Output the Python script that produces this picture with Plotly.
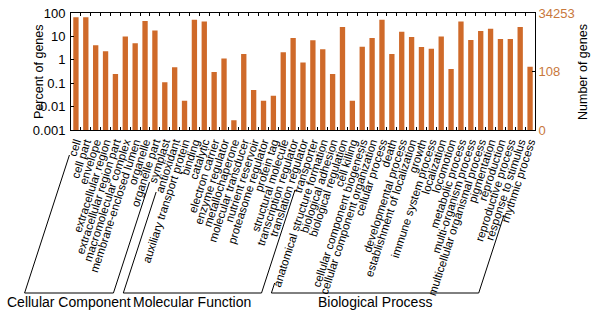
import plotly.graph_objects as go

categories = [
    "cell", "cell part", "envelope", "extracellular region", "extracellular region part",
    "macromolecular complex", "membrane-enclosed lumen", "organelle", "organelle part", "symplast",
    "antioxidant", "auxiliary transport protein", "binding", "catalytic", "electron carrier",
    "enzyme regulator", "metallochaperone", "molecular transducer", "nutrient reservoir",
    "proteasome regulator", "protein tag", "structural molecule", "transcription regulator",
    "translation regulator", "transporter",
    "anatomical structure formation", "biological adhesion", "biological regulation", "cell killing",
    "cellular component biogenesis", "cellular component organization", "cellular process", "death",
    "developmental process", "establishment of localization", "growth", "immune system process",
    "localization", "locomotion", "metabolic process", "multi-organism process",
    "multicellular organismal process", "pigmentation", "reproduction", "reproductive process",
    "response to stimulus", "rhythmic process",
]
percent_values = [
    66, 66, 4.2, 2.3, 0.25, 10, 5.1, 46, 18, 0.11,
    0.48, 0.018, 51, 43, 0.30, 1.15, 0.0026, 1.75, 0.051, 0.018, 0.029, 2.1, 8.6, 0.76, 6.8,
    2.85, 0.25, 25, 0.018, 3.6, 8.6, 52, 1.75, 15.8, 9.4, 3.5, 3.0, 10, 0.4, 43, 7, 17, 21,
    7.8, 7.8, 25, 0.51,
]
group_names = ["Cellular Component", "Molecular Function", "Biological Process"]
group_sizes = [10, 15, 22]
total_genes = 34253
left_tickvals = [0.001, 0.01, 0.1, 1, 10, 100]
left_ticktext = ["0.001", "0.01", "0.1", "1", "10", "100"]
right_ticktext = ["0", "108", "34253"]
right_tickcounts = [total_genes * 0.001 / 100, 108, total_genes]

gene_counts = [p * total_genes / 100 for p in percent_values]

BAR = "#CF6A2A"
ORANGE = "#C8783C"
FONT = "Liberation Sans, Arial, Helvetica, sans-serif"

W, H = 600, 312
L, R, T, B = 71, 65, 13, 182
PW, PH = W - L - R, H - T - B
n = len(categories)
step = PW / n


def px(x):
    return (x - L) / PW


def py(y):
    return (H - B - y) / PH


fig = go.Figure()
fig.add_trace(go.Bar(x=categories, y=percent_values, marker_color=BAR,
                     marker_line_width=0, showlegend=False))
fig.add_trace(go.Scatter(x=categories, y=gene_counts, yaxis="y2", mode="markers",
                         marker=dict(opacity=0), showlegend=False, hoverinfo="skip"))

# group brackets (parallel to the rotated labels)
slope = 0.325
anchor_y = 135
bottom_y = 293
line_tops = [(155, 182), (192, 190), (283, 215)]
shapes = []
annotations = []
start = 0
for gi, (name, size) in enumerate(zip(group_names, group_sizes)):
    first, last = start, start + size - 1
    cx_first = L + (first + 0.5) * step
    cx_last = L + (last + 0.5) * step
    top_first, top_last = line_tops[gi]
    x1t = cx_first - slope * (top_first - anchor_y)
    x1b = cx_first - slope * (bottom_y - anchor_y)
    x2t = cx_last - slope * (top_last - anchor_y)
    x2b = cx_last - slope * (bottom_y - anchor_y)
    path = (f"M {px(x1t)},{py(top_first)} L {px(x1b)},{py(bottom_y)} "
            f"L {px(x2b)},{py(bottom_y)} L {px(x2t)},{py(top_last)}")
    shapes.append(dict(type="path", xref="paper", yref="paper", path=path,
                       line=dict(color="black", width=1)))
    annotations.append(dict(text=name, x=px((x1b + x2b) / 2), y=py(302), xref="paper",
                            yref="paper", showarrow=False, xanchor="center", yanchor="middle",
                            font=dict(size=14, color="black", family=FONT)))
    start += size

annotations.append(dict(text="Percent of genes", x=px(39), y=py(72), xref="paper", yref="paper",
                        showarrow=False, textangle=-90, xanchor="center", yanchor="middle",
                        font=dict(size=12.5, color="black", family=FONT)))
annotations.append(dict(text="Number of genes", x=px(583), y=py(72), xref="paper", yref="paper",
                        showarrow=False, textangle=-90, xanchor="center", yanchor="middle",
                        font=dict(size=12.5, color="black", family=FONT)))

fig.update_layout(
    width=W, height=H,
    margin=dict(l=L, r=R, t=T, b=B, pad=0),
    paper_bgcolor="white", plot_bgcolor="white",
    font=dict(family=FONT, color="black"),
    bargap=0.46,
    showlegend=False,
    shapes=shapes,
    annotations=annotations,
    xaxis=dict(
        type="category", tickangle=-72, tickfont=dict(size=11.5, color="black"),
        tickmode="array", tickvals=categories, ticktext=categories,
        showline=True, linecolor="black", linewidth=1, mirror="ticks",
        ticks="inside", ticklen=3, tickcolor="black", tickson="boundaries",
        showgrid=False, automargin=False, range=[-0.5, n - 0.5],
    ),
    yaxis=dict(
        type="log", range=[-3, 2], tickvals=left_tickvals, ticktext=left_ticktext,
        tickfont=dict(size=13, color="black"), showline=True, linecolor="black",
        linewidth=1, ticks="inside", ticklen=3, tickcolor="black", showgrid=False,
        zeroline=False, automargin=False, ticklabelstandoff=2,
    ),
    yaxis2=dict(
        type="log", overlaying="y", side="right",
        range=[-0.4653, 4.5347], tickvals=right_tickcounts, ticktext=right_ticktext,
        tickfont=dict(size=13, color=ORANGE), showline=True, linecolor="black",
        linewidth=1, ticks="inside", ticklen=3, tickcolor="black", showgrid=False,
        zeroline=False, automargin=False,
    ),
)

fig.write_html("out.html", config={"displayModeBar": False},
               post_script="document.body.style.margin='0';")
